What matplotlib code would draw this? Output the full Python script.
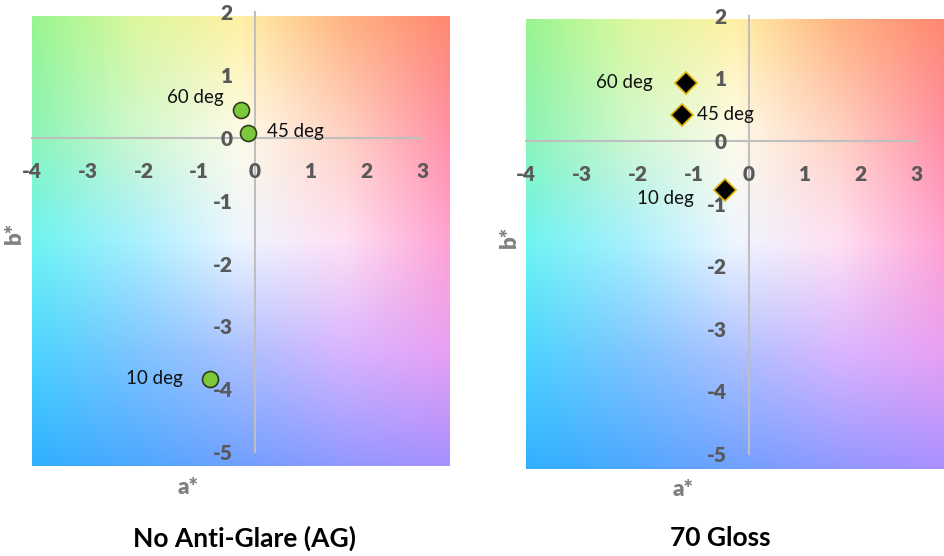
import numpy as np
import matplotlib
matplotlib.use("Agg")
import matplotlib.pyplot as plt
from matplotlib.colors import to_rgb
from matplotlib.patches import Rectangle

plt.rcParams['font.family'] = ['Lato', 'DejaVu Sans']

# data
angles = ["60 deg", "45 deg", "10 deg"]
no_ag_a = [-0.25, -0.12, -0.80]
no_ag_b = [0.45, 0.08, -3.84]
gloss_a = [-1.13, -1.20, -0.43]
gloss_b = [0.93, 0.42, -0.78]
x_ticks = [-4, -3, -2, -1, 0, 1, 2, 3]
y_ticks = [-5, -4, -3, -2, -1, 0, 1, 2]

# colour wash behind each panel (rows top->bottom, cols left->right)
bg_hex = [
    ["#98f590", "#dcf89c", "#fff0a4", "#ffb282", "#ff8870"],
    ["#8cf4b4", "#d0f8cc", "#fffbe8", "#ffd0c0", "#ff90a4"],
    ["#6ef4f2", "#a8f0ff", "#eef6ff", "#ffe0f4", "#ffa2d2"],
    ["#4cd4ff", "#7ec4ff", "#acc0ff", "#d8b4ff", "#e8a0f4"],
    ["#30b0ff", "#4ea8ff", "#70a0ff", "#9298ff", "#a890ff"],
]
bg = np.array([[to_rgb(c) for c in row] for row in bg_hex])

tick_col = "#595959"
title_col = "#808080"


def panel(ax, a, b, marker, ms, fc, ec, offsets, bg_ext, xlim, ylim):
    x0, x1, y0, y1 = bg_ext
    nr, nc = bg.shape[:2]
    dx = (x1 - x0) / (nc - 1) / 2
    dy = (y1 - y0) / (nr - 1) / 2
    im = ax.imshow(bg, extent=(x0 - dx, x1 + dx, y0 - dy, y1 + dy),
                   interpolation="bilinear", aspect="auto", zorder=0)
    clip = Rectangle((x0, y0), x1 - x0, y1 - y0, transform=ax.transData)
    im.set_clip_path(clip)

    for s in ["top", "right"]:
        ax.spines[s].set_visible(False)
    ax.spines["left"].set_position("zero")
    ax.spines["bottom"].set_position("zero")
    ax.spines["left"].set_bounds(-5, 2)
    ax.spines["bottom"].set_bounds(-4, 3)
    for s in ["left", "bottom"]:
        ax.spines[s].set_color("#bfbfbf")
        ax.spines[s].set_linewidth(1.5)
        ax.spines[s].set_zorder(1)

    ax.set_xticks(x_ticks)
    ax.set_yticks(y_ticks)
    ax.set_xticklabels([str(t) for t in x_ticks])
    ax.set_yticklabels([str(t) for t in y_ticks])
    ax.tick_params(axis="x", length=0, pad=17, labelsize=15, labelcolor=tick_col)
    ax.tick_params(axis="y", length=0, pad=16, labelsize=15, labelcolor=tick_col)
    for lab in ax.get_xticklabels() + ax.get_yticklabels():
        lab.set_fontweight("heavy")

    ax.plot(a, b, linestyle="none", marker=marker, markersize=ms,
            markerfacecolor=fc, markeredgecolor=ec, markeredgewidth=1.2,
            zorder=3, clip_on=False)
    for ai, bi, lab, (ox, oy, ha) in zip(a, b, angles, offsets):
        ax.annotate(lab, (ai, bi), xytext=(ox, oy), textcoords="offset pixels",
                    ha=ha, va="center", fontsize=13.5, color="#111111", zorder=4)

    ax.set_xlim(*xlim)
    ax.set_ylim(*ylim)


fig = plt.figure(figsize=(9.44, 5.56), dpi=100)

ax1 = fig.add_axes([31.8 / 944, 90.2 / 556, 417.4 / 944, 453.4 / 556])
panel(ax1, no_ag_a, no_ag_b, "o", 11.5, "#7dc83a", "#2b3d1c",
      [(-17, 12, "right"), (19, 1, "left"), (-28, 1, "right")],
      (-4, 3.48, -5.22, 1.94), (-4, 3.48), (-5.22, 2.0))

ax2 = fig.add_axes([526.2 / 944, 87 / 556, 417.8 / 944, 453.2 / 556])
panel(ax2, gloss_a, gloss_b, "D", 11.5, "black", "#e0b000",
      [(-33, 0, "right"), (15, 0, "left"), (-31, -9, "right")],
      (-4, 3.5, -5.24, 1.95), (-4, 3.5), (-5.24, 2.0))

# axis titles and panel titles
lab_kw = dict(ha="center", va="center", fontsize=16, fontweight="heavy", color=title_col)
fig.text(14 / 944, 1 - 233 / 556, "b*", rotation=90, **lab_kw)
fig.text(188 / 944, 1 - 488 / 556, "a*", **lab_kw)
fig.text(509 / 944, 1 - 237 / 556, "b*", rotation=90, **lab_kw)
fig.text(683 / 944, 1 - 490 / 556, "a*", **lab_kw)
fig.text(245 / 944, 1 - 538 / 556, "No Anti-Glare (AG)", ha="center", va="center",
         fontsize=19, fontweight="bold", color="black")
fig.text(720 / 944, 1 - 538 / 556, "70 Gloss", ha="center", va="center",
         fontsize=19, fontweight="bold", color="black")

fig.savefig("out.png", dpi=100)
